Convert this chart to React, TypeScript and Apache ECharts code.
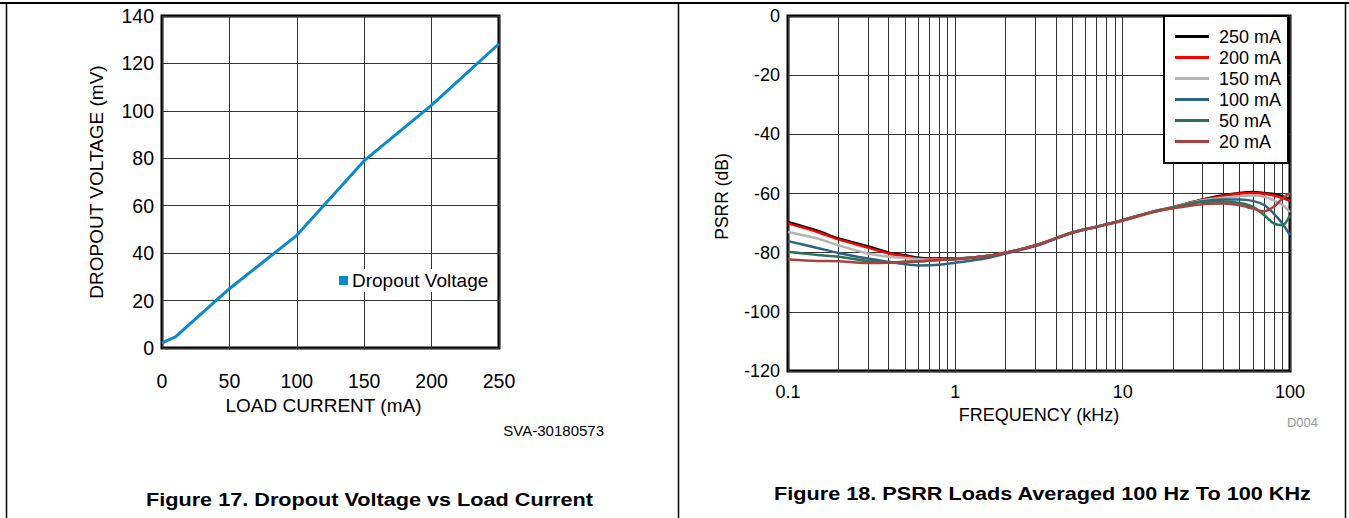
import React, { useEffect, useRef } from "react";
import * as echarts from "echarts";

const FONT = "'Liberation Sans', Arial, Helvetica, sans-serif";

// Figure 17: Dropout voltage vs load current
const loadCurrent = [0, 10, 50, 100, 150, 200, 250];
const dropoutVoltage = [2.2, 4.7, 25, 47.5, 79, 102.4, 128.3];

// Figure 18: PSRR vs frequency (kHz)
const freq = [0.1, 0.15, 0.2, 0.3, 0.4, 0.5, 0.6, 0.8, 1, 1.5, 2, 3, 5, 7, 10, 15, 20, 30, 40, 50, 60, 70, 80, 90, 100];
const psrr250 = [-69.6, -72.6, -75.2, -77.8, -80.0, -80.9, -81.7, -82.0, -82.0, -81.2, -80.0, -77.6, -73.2, -71.2, -69.0, -66.2, -64.6, -62.0, -60.6, -59.8, -59.5, -59.8, -60.2, -60.9, -62.0];
const psrr200 = [-70.1, -73.0, -75.5, -78.3, -80.3, -81.2, -82.0, -82.2, -82.1, -81.2, -80.0, -77.6, -73.2, -71.2, -69.0, -66.2, -64.6, -62.1, -60.8, -60.0, -59.8, -60.1, -60.7, -61.5, -62.5];
const psrr150 = [-73.0, -75.2, -77.5, -80.3, -81.4, -81.8, -82.2, -82.4, -82.1, -81.2, -80.0, -77.6, -73.2, -71.2, -69.0, -66.2, -64.6, -62.3, -61.4, -60.9, -60.7, -61.1, -62.3, -63.9, -66.2];
const psrr100 = [-76.1, -78.4, -80.1, -82.0, -83.1, -83.9, -84.3, -84.1, -83.4, -82.0, -80.3, -77.8, -73.3, -71.3, -69.1, -66.3, -64.8, -62.6, -62.0, -62.0, -62.5, -63.9, -66.8, -70.1, -74.1];
const psrr50 = [-79.7, -80.8, -81.4, -82.8, -83.2, -83.1, -83.0, -82.5, -82.1, -81.2, -80.0, -77.6, -73.2, -71.2, -69.0, -66.2, -64.7, -62.8, -62.7, -63.2, -64.5, -67.3, -70.1, -70.7, -67.3];
const psrr20 = [-82.3, -82.8, -82.9, -83.5, -83.4, -83.1, -82.9, -82.5, -82.3, -81.2, -80.0, -77.6, -73.3, -71.3, -69.2, -66.4, -65.0, -63.6, -63.4, -64.0, -65.1, -66.0, -64.5, -61.7, -59.8];

const psrrNames = ["250 mA", "200 mA", "150 mA", "100 mA", "50 mA", "20 mA"];
const psrrColors = ["#000000", "#ff0000", "#b4b4b4", "#2f6384", "#2c7356", "#a8423f"];
const psrrSeries = [psrr250, psrr200, psrr150, psrr100, psrr50, psrr20];
const minorFreqs = [0.2, 0.3, 0.4, 0.5, 0.6, 0.7, 0.8, 0.9, 2, 3, 4, 5, 6, 7, 8, 9, 20, 30, 40, 50, 60, 70, 80, 90];

const txt = (size: number, extra: any = {}) => ({ color: "#000", fontSize: size, fontFamily: FONT, ...extra });

export default function App() {
  const ref = useRef<HTMLDivElement>(null);
  useEffect(() => {
    const chart = echarts.init(ref.current!, undefined, { renderer: "svg" });
    const gridLine = { show: true, lineStyle: { color: "#333", width: 1 } };
    const option: any = {
      animation: false,
      backgroundColor: "#fff",
      grid: [
        { left: 162, top: 16, width: 337, height: 332, show: true, borderColor: "#000", borderWidth: 3, backgroundColor: "transparent" },
        { left: 788, top: 16, width: 502, height: 355, show: true, borderColor: "#000", borderWidth: 3, backgroundColor: "transparent" },
      ],
      xAxis: [
        {
          gridIndex: 0, type: "value", min: 0, max: 250, interval: 50,
          axisLine: { show: false }, axisTick: { show: false },
          axisLabel: { margin: 23, ...txt(19.5) }, splitLine: gridLine,
          name: "LOAD CURRENT (mA)", nameLocation: "middle", nameGap: 47, nameTextStyle: txt(19, { padding: [0, 14, 0, 0] }),
        },
        {
          gridIndex: 1, type: "log", logBase: 10, min: 0.1, max: 100,
          axisLine: { show: false }, axisTick: { show: false },
          axisLabel: { margin: 12, ...txt(18), formatter: (v: number) => (v < 1 ? v.toFixed(1) : String(Math.round(v))) },
          splitLine: gridLine,
          name: "FREQUENCY (kHz)", nameLocation: "middle", nameGap: 33, nameTextStyle: txt(18),
        },
      ],
      yAxis: [
        {
          gridIndex: 0, type: "value", min: 0, max: 140, interval: 20,
          axisLine: { show: false }, axisTick: { show: false },
          axisLabel: { margin: 8, ...txt(19.5) }, splitLine: gridLine,
          name: "DROPOUT VOLTAGE (mV)", nameLocation: "middle", nameGap: 56, nameRotate: 90, nameTextStyle: txt(19),
        },
        {
          gridIndex: 1, type: "value", min: -120, max: 0, interval: 20,
          axisLine: { show: false }, axisTick: { show: false },
          axisLabel: { margin: 8, ...txt(18) }, splitLine: gridLine,
          name: "PSRR (dB)", nameLocation: "middle", nameGap: 57, nameRotate: 90, nameTextStyle: txt(17.5, { padding: [0, 6, 0, 0] }),
        },
      ],
      legend: [
        {
          data: ["Dropout Voltage"], left: 336, top: 269, icon: "rect", itemWidth: 9, itemHeight: 9, z: 10,
          padding: [2, 3, 2, 3], backgroundColor: "#fff", textStyle: txt(19, { padding: [0, 0, 0, -1] }),
        },
        {
          data: psrrNames, orient: "vertical", left: 1164, top: 16, icon: "rect", itemWidth: 34, itemHeight: 3, z: 10,
          itemGap: 0, padding: [10, 7, 11, 11], backgroundColor: "#fff", borderColor: "#000", borderWidth: 2,
          textStyle: txt(18, { lineHeight: 21, padding: [0, 0, 0, 5] }),
        },
      ],
      series: [
        {
          name: "Dropout Voltage", type: "line", xAxisIndex: 0, yAxisIndex: 0, symbol: "none",
          color: "#0a8ac8", lineStyle: { width: 3, color: "#0a8ac8" },
          data: loadCurrent.map((c, i) => [c, dropoutVoltage[i]]),
        },
        {
          name: "minor-grid", type: "line", xAxisIndex: 1, yAxisIndex: 1, data: [], z: 1,
          markLine: {
            silent: true, z: 1, symbol: ["none", "none"], label: { show: false },
            lineStyle: { color: "#333", width: 1, type: "solid" }, emphasis: { disabled: true },
            animation: false,
            data: minorFreqs.map((f) => ({ xAxis: f })),
          },
        },
        ...psrrSeries.map((vals, k) => ({
          name: psrrNames[k], type: "line", xAxisIndex: 1, yAxisIndex: 1, symbol: "none", smooth: 0.3, z: 3,
          color: psrrColors[k], lineStyle: { width: 2.5, color: psrrColors[k] },
          data: freq.map((f, i) => [f, vals[i]]),
        })),
      ],
      graphic: [
        { type: "line", shape: { x1: 0, y1: 3, x2: 1349, y2: 3 }, style: { stroke: "#000", lineWidth: 2 } },
        { type: "line", shape: { x1: 6.5, y1: 3, x2: 6.5, y2: 518 }, style: { stroke: "#000", lineWidth: 1.5 } },
        { type: "line", shape: { x1: 678.5, y1: 3, x2: 678.5, y2: 518 }, style: { stroke: "#000", lineWidth: 1.5 } },
        { type: "line", shape: { x1: 1345.5, y1: 3, x2: 1345.5, y2: 518 }, style: { stroke: "#000", lineWidth: 1.5 } },
        { type: "text", x: 604, y: 430, style: { text: "SVA-30180573", ...txt(15), fill: "#000", align: "right", verticalAlign: "middle" } },
        { type: "text", x: 1318, y: 422, style: { text: "D004", ...txt(13), fill: "#999", align: "right", verticalAlign: "middle" } },
        { type: "text", x: 369.5, y: 499, scaleX: 1.14, style: { text: "Figure 17. Dropout Voltage vs Load Current", ...txt(19), fontWeight: "bold", fill: "#000", align: "center", verticalAlign: "middle" } },
        { type: "text", x: 1042.5, y: 493, scaleX: 1.14, style: { text: "Figure 18. PSRR Loads Averaged 100 Hz To 100 KHz", ...txt(19), fontWeight: "bold", fill: "#000", align: "center", verticalAlign: "middle" } },
      ],
    };
    chart.setOption(option);
    return () => chart.dispose();
  }, []);
  return <div ref={ref} style={{ position: "fixed", left: 0, top: 0, width: 1349, height: 518, background: "#fff" }} />;
}
